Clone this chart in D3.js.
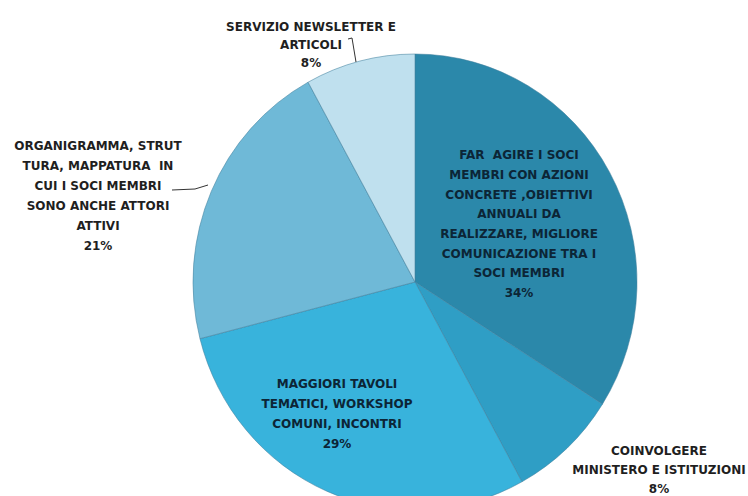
<!DOCTYPE html>
<html>
<head>
<meta charset="utf-8">
<script src="https://cdn.jsdelivr.net/npm/d3@7"></script>
<style>
  html, body { margin: 0; padding: 0; background: #ffffff; }
  svg { display: block; }
  .label text { font-family: "DejaVu Sans", sans-serif; font-weight: 700; font-size: 12px; white-space: pre; }
</style>
</head>
<body>
<div id="chart"></div>
<script>
// slice values, clockwise from 12 o'clock
var values = [34, 8, 29, 21, 8];

// category names, one entry per line as in the source labels
var categories = [
  ['FAR  AGIRE I SOCI', 'MEMBRI CON AZIONI', 'CONCRETE ,OBIETTIVI', 'ANNUALI DA',
   'REALIZZARE, MIGLIORE', 'COMUNICAZIONE TRA I', 'SOCI MEMBRI'],
  ['COINVOLGERE', 'MINISTERO E ISTITUZIONI'],
  ['MAGGIORI TAVOLI', 'TEMATICI, WORKSHOP', 'COMUNI, INCONTRI'],
  ['ORGANIGRAMMA, STRUT', 'TURA, MAPPATURA  IN', 'CUI I SOCI MEMBRI',
   'SONO ANCHE ATTORI', 'ATTIVI'],
  ['SERVIZIO NEWSLETTER E', 'ARTICOLI']
];

var colors = ['#2b88aa', '#2f9ec5', '#38b3dc', '#6fb9d7', '#bfe0ee'];

var width = 748, height = 496,
    cx = 415, cy = 282,
    rx = 222, ry = 228;

// label boxes: centre x, first line y, line step, optional leader line
var labelLayout = [
  { x: 519, y: 155, step: 19.7, inside: true },
  { x: 659, y: 451, step: 19 },
  { x: 337, y: 384, step: 20, inside: true },
  { x: 98, y: 146, step: 20, leader: [[172, 190], [195, 189], [208, 185]] },
  { x: 311, y: 27, step: 18, leader: [[348, 39], [352, 38], [356, 62]] }
];

var svg = d3.select('#chart').append('svg')
    .attr('width', width)
    .attr('height', height);

var pie = d3.pie()
    .sort(null)
    .value(function(d) { return d; });

var arc = d3.arc()
    .innerRadius(0)
    .outerRadius(rx);

var arcs = pie(values);

var pieG = svg.append('g')
    .attr('transform', 'translate(' + cx + ',' + cy + ') scale(1,' + (ry / rx) + ')');

pieG.selectAll('path')
    .data(arcs)
  .enter().append('path')
    .attr('d', arc)
    .attr('fill', function(d, i) { return colors[i]; })
    .attr('stroke', '#3f7f9c')
    .attr('stroke-opacity', 0.55)
    .attr('stroke-width', 1)
    .attr('vector-effect', 'non-scaling-stroke');

var line = d3.line();

var labels = svg.selectAll('g.label')
    .data(arcs)
  .enter().append('g')
    .attr('class', 'label');

labels.each(function(d, i) {
  var g = d3.select(this),
      lay = labelLayout[i],
      lines = categories[i].concat([d3.format('.0f')(d.value) + '%']);

  if (lay.leader) {
    g.append('path')
      .attr('d', line(lay.leader))
      .attr('fill', 'none')
      .attr('stroke', '#333')
      .attr('stroke-width', 1);
  }

  g.append('text')
      .attr('text-anchor', 'middle')
      .attr('fill', lay.inside ? '#0c2536' : '#1f1f1f')
    .selectAll('tspan')
    .data(lines)
    .enter().append('tspan')
      .attr('x', lay.x)
      .attr('y', function(t, j) { return lay.y + j * lay.step; })
      .attr('dy', '0.35em')
      .text(function(t) { return t; });
});
</script>
</body>
</html>
